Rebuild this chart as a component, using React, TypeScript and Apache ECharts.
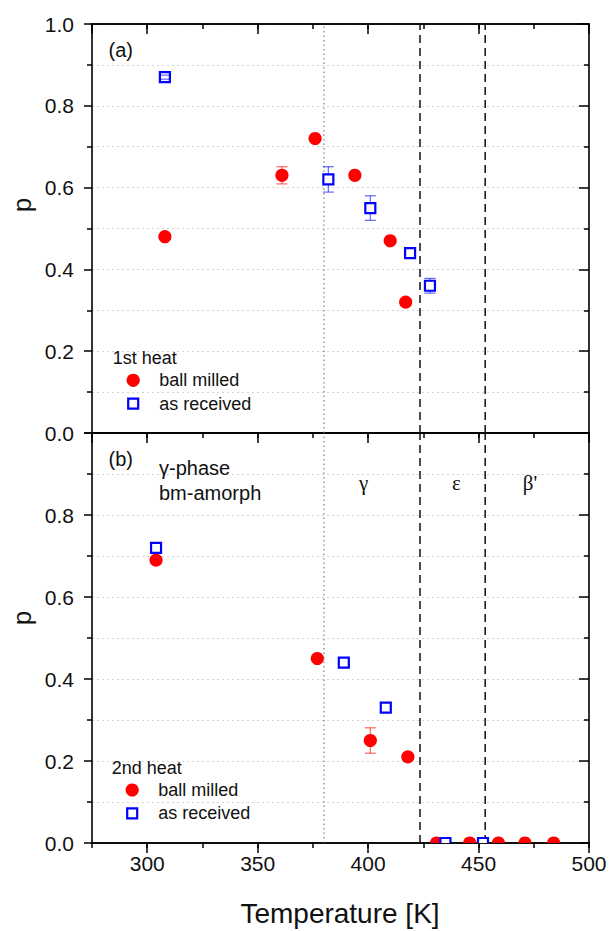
import React, { useEffect, useRef } from 'react';
import * as echarts from 'echarts';

// ---------- data ----------
const xMin = 275;
const xMax = 500;
const yMin = 0;
const yMax = 1;

// Panel (a): 1st heat
const aBallMilledT = [308, 361, 376, 394, 410, 417];
const aBallMilledP = [0.48, 0.63, 0.72, 0.63, 0.47, 0.32];
const aBallMilledErr = [0, 0.021, 0, 0, 0, 0];

const aAsReceivedT = [308, 382, 401, 419, 428];
const aAsReceivedP = [0.87, 0.62, 0.55, 0.44, 0.36];
const aAsReceivedErr = [0.005, 0.031, 0.03, 0, 0.018];

// Panel (b): 2nd heat
const bBallMilledT = [304, 377, 401, 418, 431, 446, 459, 471, 484];
const bBallMilledP = [0.69, 0.45, 0.25, 0.21, 0, 0, 0, 0, 0];
const bBallMilledErr = [0, 0, 0.031, 0, 0, 0, 0, 0, 0];

const bAsReceivedT = [304, 389, 408, 435, 452];
const bAsReceivedP = [0.72, 0.44, 0.33, 0, 0];
const bAsReceivedErr = [0, 0, 0, 0, 0];

// Phase boundaries
const boundaryT = [380, 423.5, 453];
const boundaryKind = ['dotted', 'dashed', 'dashed'];

const phaseLabels = ['γ', 'ε', "β'"];
const phaseLabelT = [398, 440, 473.3];

// ---------- styling ----------
const RED = '#ff0000';
const BLUE = '#0000ff';
const SANS = '"Liberation Sans", Arial, Helvetica, sans-serif';
const SERIF = '"Liberation Serif", "Times New Roman", serif';
const TXT = '#111';

const GRID_LEFT = 92;
const GRID_WIDTH = 497;
const A_TOP = 24;
const A_H = 409;
const B_TOP = 433;
const B_H = 410;

function markerSeries(
  name: string,
  xs: number[],
  ys: number[],
  errs: number[],
  kind: 'circle' | 'square',
  xIdx: number,
  yIdx: number
) {
  const data = xs.map((x, i) => [x, ys[i], errs[i] || 0]);
  return {
    type: 'custom',
    name,
    xAxisIndex: xIdx,
    yAxisIndex: yIdx,
    clip: true,
    z: kind === 'square' ? 6 : 5,
    dimensions: ['T', 'p', 'err'],
    encode: { x: 0, y: 1 },
    data,
    renderItem: (_params: any, api: any) => {
      const x = api.value(0) as number;
      const y = api.value(1) as number;
      const e = api.value(2) as number;
      const c = api.coord([x, y]);
      const isCircle = kind === 'circle';
      const half = isCircle ? 6.5 : 5.5;
      const errColor = isCircle ? 'rgba(255,0,0,0.6)' : 'rgba(0,0,255,0.6)';
      const children: any[] = [];
      const caps: any[] = [];
      if (e > 0) {
        const t = api.coord([x, y + e])[1];
        const b = api.coord([x, y - e])[1];
        if (t < c[1] - half) {
          children.push({
            type: 'line',
            shape: { x1: c[0], y1: t, x2: c[0], y2: c[1] - half },
            style: { stroke: errColor, lineWidth: 1.2 },
          });
        }
        if (b > c[1] + half) {
          children.push({
            type: 'line',
            shape: { x1: c[0], y1: c[1] + half, x2: c[0], y2: b },
            style: { stroke: errColor, lineWidth: 1.2 },
          });
        }
        caps.push({
          type: 'line',
          shape: { x1: c[0] - 5.5, y1: t, x2: c[0] + 5.5, y2: t },
          style: { stroke: errColor, lineWidth: 1.2 },
        });
        caps.push({
          type: 'line',
          shape: { x1: c[0] - 5.5, y1: b, x2: c[0] + 5.5, y2: b },
          style: { stroke: errColor, lineWidth: 1.2 },
        });
      }
      if (isCircle) {
        children.push(...caps);
        children.push({
          type: 'circle',
          shape: { cx: c[0], cy: c[1], r: 6.6 },
          style: { fill: RED, stroke: 'none' },
        });
      } else {
        children.push({
          type: 'rect',
          shape: { x: c[0] - 5, y: c[1] - 5, width: 10, height: 10 },
          style: { fill: '#ffffff', stroke: BLUE, lineWidth: 2.2 },
        });
        children.push(...caps);
      }
      return { type: 'group', children };
    },
  };
}

function boundarySeries(xIdx: number, yIdx: number) {
  return {
    type: 'custom',
    name: 'boundaries',
    xAxisIndex: xIdx,
    yAxisIndex: yIdx,
    clip: true,
    z: 3,
    silent: true,
    dimensions: ['T', 'kind'],
    encode: { x: 0 },
    data: boundaryT.map((t, i) => [t, i]),
    renderItem: (_params: any, api: any) => {
      const x = api.value(0) as number;
      const k = boundaryKind[api.value(1) as number];
      const p0 = api.coord([x, yMin]);
      const p1 = api.coord([x, yMax]);
      const dotted = k === 'dotted';
      return {
        type: 'line',
        shape: { x1: p0[0], y1: p0[1], x2: p1[0], y2: p1[1] },
        style: {
          stroke: dotted ? '#666' : '#111',
          lineWidth: dotted ? 1 : 1.5,
          lineDash: dotted ? [1.5, 3] : [8, 5],
        },
      };
    },
  };
}

function xAxisCfg(
  gridIndex: number,
  position: 'top' | 'bottom',
  major: boolean,
  inside: boolean,
  labels: boolean,
  ticks: boolean
) {
  const base: any = {
    type: 'value',
    gridIndex,
    position,
    min: xMin,
    max: xMax,
    axisLine: { show: true, onZero: false, lineStyle: { color: '#000', width: 1.6 } },
    axisTick: { show: ticks, inside, length: major ? 10 : 5, lineStyle: { color: '#000', width: 1.5 } },
    splitLine: { show: false },
    axisLabel: {
      show: labels,
      color: TXT,
      fontSize: 21,
      fontFamily: SANS,
      margin: 10,
      showMinLabel: false,
    },
  };
  if (major) {
    base.minInterval = 50;
    base.maxInterval = 50;
  } else {
    base.interval = 25;
  }
  return base;
}

function yAxisCfg(gridIndex: number, position: 'left' | 'right', hideTop: boolean) {
  const left = position === 'left';
  return {
    type: 'value',
    gridIndex,
    position,
    min: yMin,
    max: yMax,
    interval: 0.2,
    axisLine: { show: true, onZero: false, lineStyle: { color: '#000', width: 1.6 } },
    axisTick: { show: true, inside: !left, length: left ? 8 : 10, lineStyle: { color: '#000', width: 1.5 } },
    minorTick: { show: true, splitNumber: 2, length: 5, lineStyle: { color: '#000', width: 1.5 } },
    splitLine: {
      show: left,
      lineStyle: { color: '#d4d4d4', width: 1, type: [2, 3] },
    },
    minorSplitLine: {
      show: left,
      lineStyle: { color: '#d4d4d4', width: 1, type: [2, 3] },
    },
    axisLabel: {
      show: left,
      color: TXT,
      fontSize: 21,
      fontFamily: SANS,
      margin: 18,
      formatter: (v: number) => (hideTop && v >= 0.999 ? '' : v.toFixed(1)),
    },
  };
}

function text(x: number, y: number, str: string, opts: any = {}) {
  const align = opts.align || 'left';
  return {
    type: 'text',
    x,
    y,
    rotation: opts.rotation || 0,
    z: 10,
    silent: true,
    style: {
      text: str,
      fill: opts.color || TXT,
      font: `${opts.weight || 'normal'} ${opts.size || 18}px ${opts.family || SANS}`,
      textAlign: align,
      align,
      textVerticalAlign: 'middle',
      verticalAlign: 'middle',
    },
  };
}

function legend(headX: number, headY: number, heading: string) {
  const mx = headX + 20.5;
  const tx = headX + 46.5;
  const y1 = headY + 22.3;
  const y2 = headY + 45.6;
  return [
    text(headX, headY, heading, { size: 18 }),
    { type: 'circle', z: 10, silent: true, shape: { cx: mx, cy: y1, r: 6.6 }, style: { fill: RED } },
    text(tx, y1, 'ball milled', { size: 18 }),
    {
      type: 'rect',
      z: 10,
      silent: true,
      shape: { x: mx - 5, y: y2 - 5, width: 10, height: 10 },
      style: { fill: '#fff', stroke: BLUE, lineWidth: 2.2 },
    },
    text(tx, y2, 'as received', { size: 18 }),
  ];
}

function xPix(t: number) {
  return GRID_LEFT + ((t - xMin) / (xMax - xMin)) * GRID_WIDTH;
}

export default function App() {
  const ref = useRef<HTMLDivElement>(null);

  useEffect(() => {
    if (!ref.current) return;
    const chart = echarts.init(ref.current, null, { renderer: 'svg' });

    const graphics: any[] = [
      text(120.7, 50, '(a)', { size: 20, align: 'center' }),
      text(120.7, 459, '(b)', { size: 20, align: 'center' }),
      text(159, 468, 'γ-phase', { size: 20 }),
      text(159, 493, 'bm-amorph', { size: 20 }),
      ...phaseLabels.map((s, i) =>
        text(xPix(phaseLabelT[i]), 483, s, { size: 21, align: 'center', family: SERIF, weight: 'normal' })
      ),
      ...legend(112.7, 358, '1st heat'),
      ...legend(111.7, 767.7, '2nd heat'),
      text(22, 205, 'p', { size: 26, align: 'center', rotation: Math.PI / 2 }),
      text(22, 618, 'p', { size: 26, align: 'center', rotation: Math.PI / 2 }),
      text(340, 913, 'Temperature [K]', { size: 28, align: 'center' }),
    ];

    const option: any = {
      animation: false,
      backgroundColor: '#ffffff',
      grid: [
        { left: GRID_LEFT, top: A_TOP, width: GRID_WIDTH, height: A_H, containLabel: false },
        { left: GRID_LEFT, top: B_TOP, width: GRID_WIDTH, height: B_H, containLabel: false },
      ],
      xAxis: [
        xAxisCfg(0, 'bottom', true, false, false, false), // 0 data axis panel a
        xAxisCfg(0, 'top', true, true, false, true), // 1
        xAxisCfg(0, 'top', false, true, false, true), // 2
        xAxisCfg(1, 'bottom', true, false, true, true), // 3 data axis panel b
        xAxisCfg(1, 'bottom', false, false, false, true), // 4
        xAxisCfg(1, 'top', true, true, false, true), // 5
        xAxisCfg(1, 'top', false, true, false, true), // 6
      ],
      yAxis: [
        yAxisCfg(0, 'left', false),
        yAxisCfg(0, 'right', false),
        yAxisCfg(1, 'left', true),
        yAxisCfg(1, 'right', true),
      ],
      series: [
        boundarySeries(0, 0),
        boundarySeries(3, 2),
        markerSeries('ball milled (1st heat)', aBallMilledT, aBallMilledP, aBallMilledErr, 'circle', 0, 0),
        markerSeries('as received (1st heat)', aAsReceivedT, aAsReceivedP, aAsReceivedErr, 'square', 0, 0),
        markerSeries('ball milled (2nd heat)', bBallMilledT, bBallMilledP, bBallMilledErr, 'circle', 3, 2),
        markerSeries('as received (2nd heat)', bAsReceivedT, bAsReceivedP, bAsReceivedErr, 'square', 3, 2),
      ],
      graphic: graphics,
    };

    chart.setOption(option);
    return () => chart.dispose();
  }, []);

  return (
    <div
      ref={ref}
      style={{ position: 'absolute', left: 0, top: 0, width: 613, height: 931, background: '#fff' }}
    />
  );
}
